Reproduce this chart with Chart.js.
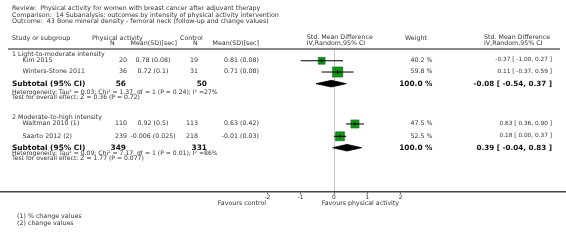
<!DOCTYPE html>
<html>
<head>
<meta charset="utf-8">
<script src="https://cdn.jsdelivr.net/npm/chart.js@4/dist/chart.umd.min.js"></script>
<style>
  html, body { margin: 0; padding: 0; background: #fff; }
  #wrap { position: relative; width: 566px; height: 242px; overflow: hidden; font-family: "DejaVu Sans", Verdana, sans-serif; color: #333; will-change: transform; }
  .t { position: absolute; white-space: pre; line-height: 1; }
  #cv { position: absolute; left: 0; top: 49px; }
</style>
</head>
<body>
<div id="wrap">
  <canvas id="cv" width="566" height="193"></canvas>
</div>
<script>
// ---------------- DATA ----------------
const reviewTitle = "Physical activity for women with breast cancer after adjuvant therapy";
const comparisonTitle = "14 Subanalysis: outcomes by intensity of physical activity intervention";
const outcomeTitle = "43 Bone mineral density - femoral neck (follow-up and change values)";
const groups = ["1 Light-to-moderate intensity", "2 Moderate-to-high intensity"];
const studies = ["Kim 2015", "Winters-Stone 2011", "Waltman 2010 (1)", "Saarto 2012 (2)"];
const paN = [20, 36, 110, 239];
const paMean = [0.78, 0.72, 0.92, -0.006];
const paSD = [0.08, 0.1, 0.5, 0.025];
const ctrlN = [19, 31, 113, 218];
const ctrlMean = [0.81, 0.71, 0.63, -0.01];
const ctrlSD = [0.08, 0.08, 0.42, 0.03];
const weights = [40.2, 59.8, 47.5, 52.5];
const smd = [-0.37, 0.11, 0.63, 0.18];
const ciLow = [-1.00, -0.37, 0.36, 0.00];
const ciHigh = [0.27, 0.59, 0.90, 0.37];
const subPaN = [56, 349];
const subCtrlN = [50, 331];
const subSmd = [-0.08, 0.39];
const subLow = [-0.54, -0.04];
const subHigh = [0.37, 0.83];
const hetTau2 = ["0.03", "0.09"];
const hetChi2 = ["1.37", "7.17"];
const hetDf = [1, 1];
const hetP = ["0.24", "0.01"];
const hetI2 = [27, 86];
const effZ = ["0.36", "1.77"];
const effP = ["0.72", "0.077"];
const xTicks = [-2, -1, 0, 1, 2];
const favourLeft = "Favours control";
const favourRight = "Favours physical activity";
const footnotes = ["(1) % change values", "(2) change values"];

// ---------------- LAYOUT ----------------
const W = 566;
const ZERO_PX = 334;        // page x of value 0
const PX_PER_UNIT = 33.3;   // pixels per SMD unit
const CANVAS_TOP = 49;
const AXIS_PX = 191.5;      // page y of the axis line
const ROW_H = 11.75;
const studyRow = [1.0, 1.96, 6.38, 7.43];
const subRow = [2.95, 8.4];
const rowToPage = r => CANVAS_TOP + r * ROW_H;
const BASE = 6.3;

const wrap = document.getElementById('wrap');
function txt(s, x, y, o = {}) {
  const el = document.createElement('span');
  el.className = 't';
  el.textContent = s;
  const size = o.size || BASE;
  el.style.fontSize = size + 'px';
  if (o.bold) el.style.fontWeight = 'bold';
  if (o.color) el.style.color = o.color;
  el.style.top = (y - size * 0.49) + 'px';
  if (o.align === 'r') el.style.right = (W - x) + 'px';
  else if (o.align === 'c') { el.style.left = x + 'px'; el.style.transform = 'translateX(-50%)'; }
  else el.style.left = x + 'px';
  wrap.appendChild(el);
}
function box(x, y, w, h, c) {
  const d = document.createElement('div');
  d.style.cssText = `position:absolute;left:${x}px;top:${y}px;width:${w}px;height:${h}px;background:${c}`;
  wrap.appendChild(d);
}

// titles
txt("Review:  " + reviewTitle, 12, 8.5);
txt("Comparison:  " + comparisonTitle, 12, 15);
txt("Outcome:  " + outcomeTitle, 12, 21.5);
// header
txt("Study or subgroup", 12, 38.3);
txt("Physical activity", 92, 37.7);
txt("N", 110, 43.3);
txt("Mean(SD)[sec]", 177, 43.3, {align: 'r'});
txt("Control", 180, 37.7);
txt("N", 193, 43.3);
txt("Mean(SD)[sec]", 259, 43.3, {align: 'r'});
txt("Std. Mean Difference", 306.7, 37.3);
txt("IV,Random,95% CI", 306.7, 43.3);
txt("Weight", 405, 37.7);
txt("Std. Mean Difference", 484, 37.3);
txt("IV,Random,95% CI", 484, 43.3);
box(8, 48, 552, 2, '#8a8a8a');

const fmtEff = (e, l, h) => `${e.toFixed(2)} [ ${l.toFixed(2)}, ${h.toFixed(2)} ]`;
const groupHeaderY = [54.5, 117];
const hetY = [[92, 97], [153, 157.5]];
for (let g = 0; g < groups.length; g++) {
  txt(groups[g], 12, groupHeaderY[g]);
  const sy = rowToPage(subRow[g]);
  txt("Subtotal (95% CI)", 12, sy, {size: 7.4, bold: true, color: '#111'});
  txt(String(subPaN[g]), 126, sy, {size: 7.4, bold: true, align: 'r', color: '#111'});
  txt(String(subCtrlN[g]), 207, sy, {size: 7.4, bold: true, align: 'r', color: '#111'});
  txt("100.0 %", 432.5, sy, {size: 7.4, bold: true, align: 'r', color: '#111'});
  txt(fmtEff(subSmd[g], subLow[g], subHigh[g]), 552, sy, {size: 7.2, bold: true, align: 'r', color: '#111'});
  txt(`Heterogeneity: Tau² = ${hetTau2[g]}; Chi² = ${hetChi2[g]}, df = ${hetDf[g]} (P = ${hetP[g]}); I² =${hetI2[g]}%`, 12, hetY[g][0], {size: 6.1});
  txt(`Test for overall effect: Z = ${effZ[g]} (P = ${effP[g]})`, 12, hetY[g][1], {size: 6.1});
}
for (let i = 0; i < studies.length; i++) {
  const y = rowToPage(studyRow[i]) - 0.5;
  txt(studies[i], 22.5, y);
  txt(String(paN[i]), 127, y, {align: 'r'});
  txt(`${paMean[i]} (${paSD[i]})`, 153, y, {align: 'c'});
  txt(String(ctrlN[i]), 198, y, {align: 'r'});
  txt(`${ctrlMean[i]} (${ctrlSD[i]})`, 259, y, {align: 'r'});
  txt(weights[i].toFixed(1) + " %", 432.5, y, {align: 'r'});
  txt(fmtEff(smd[i], ciLow[i], ciHigh[i]), 552, y, {align: 'r', size: 5.8});
}
txt(favourLeft, 266, 203.3, {align: 'r'});
txt(favourRight, 321.7, 203.3);
txt(footnotes[0], 17, 215.7);
txt(footnotes[1], 17, 223.3);

// ---------------- CHART ----------------
const yMax = (AXIS_PX - CANVAS_TOP) / ROW_H;
const datasets = [];
// CI lines
for (let i = 0; i < studies.length; i++) {
  datasets.push({
    type: 'line', data: [{x: ciLow[i], y: studyRow[i]}, {x: ciHigh[i], y: studyRow[i]}],
    borderColor: '#000', borderWidth: 1, pointRadius: 0, order: 0
  });
}
// estimate ticks
datasets.push({
  type: 'scatter', data: smd.map((v, i) => ({x: v, y: studyRow[i]})),
  pointStyle: 'line', rotation: 90, pointRadius: 1.6, borderColor: '#000', borderWidth: 1, order: 0
});
// squares (size proportional to weight)
datasets.push({
  type: 'scatter', data: smd.map((v, i) => ({x: v, y: studyRow[i]})),
  pointStyle: 'rect', pointRadius: weights.map(w => w * 0.17 / Math.SQRT2),
  backgroundColor: '#16941a', borderColor: '#0d6a10', borderWidth: 0.6, order: 1
});
// diamonds
const dh = 3.3 / ROW_H;
for (let g = 0; g < groups.length; g++) {
  const r = subRow[g];
  datasets.push({
    type: 'line',
    data: [{x: subLow[g], y: r}, {x: subSmd[g], y: r - dh}, {x: subHigh[g], y: r}, {x: subSmd[g], y: r + dh}, {x: subLow[g], y: r}],
    borderColor: '#000', backgroundColor: '#000', borderWidth: 0.8, pointRadius: 0, fill: 'shape', tension: 0, order: 0
  });
}

new Chart(document.getElementById('cv'), {
  type: 'scatter',
  data: { datasets },
  options: {
    responsive: false, animation: false, devicePixelRatio: 1,
    layout: { padding: 0, autoPadding: false },
    plugins: { legend: { display: false }, tooltip: { enabled: false } },
    scales: {
      x: {
        type: 'linear',
        min: -ZERO_PX / PX_PER_UNIT,
        max: (W - ZERO_PX) / PX_PER_UNIT,
        afterBuildTicks: s => { s.ticks = xTicks.map(v => ({value: v})); },
        afterFit: s => { s.height = 242 - AXIS_PX; },
        ticks: { font: { family: 'DejaVu Sans', size: 6 }, color: '#333', padding: 0, maxRotation: 0, autoSkip: false },
        grid: {
          color: c => (c.tick && c.tick.value === 0) ? '#c4c4c4' : 'rgba(0,0,0,0)',
          tickColor: '#555', tickLength: 2.5, lineWidth: 1
        },
        border: { display: true, color: '#444', width: 1.5 }
      },
      y: { type: 'linear', display: false, reverse: true, min: 0, max: yMax }
    }
  }
});
</script>
</body>
</html>
